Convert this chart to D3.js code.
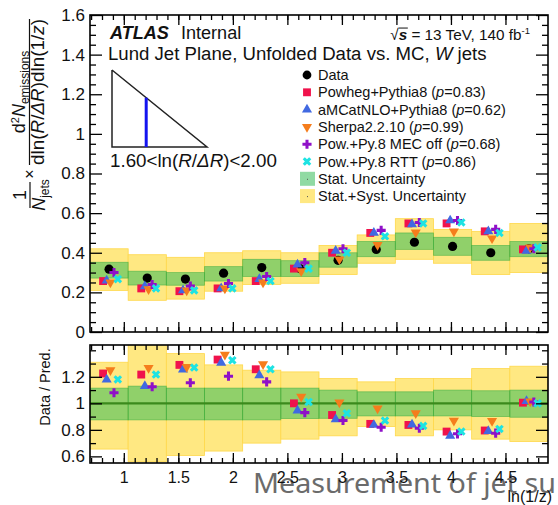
<!DOCTYPE html>
<html>
<head>
<meta charset="utf-8">
<script src="https://cdn.jsdelivr.net/npm/d3@7"></script>
<style>
  body { margin: 0; background: #fff; }
  svg { display: block; }
  text { font-family: "Liberation Sans", Arial, Helvetica, sans-serif; fill: #111; }
</style>
</head>
<body>
<svg id="chart" width="558" height="505"></svg>
<script>
// ln(1/z) bin edges
const binEdges = [0.69, 1.04, 1.39, 1.74, 2.09, 2.44, 2.79, 3.14, 3.49, 3.84, 4.19, 4.54, 4.89];

// Unfolded data and uncertainty bands (upper panel)
const dataVals = [0.317, 0.272, 0.267, 0.297, 0.325, 0.320, 0.362, 0.417, 0.453, 0.432, 0.400, 0.420];
const statLo   = [0.272, 0.237, 0.236, 0.257, 0.280, 0.280, 0.327, 0.380, 0.417, 0.387, 0.362, 0.380];
const statHi   = [0.352, 0.307, 0.300, 0.330, 0.367, 0.360, 0.400, 0.457, 0.500, 0.478, 0.437, 0.457];
const totLo    = [0.210, 0.160, 0.166, 0.206, 0.240, 0.246, 0.290, 0.347, 0.367, 0.347, 0.290, 0.300];
const totHi    = [0.420, 0.390, 0.377, 0.400, 0.410, 0.400, 0.437, 0.490, 0.572, 0.518, 0.508, 0.548];

// MC predictions (upper panel)
const powheg = [0.257, 0.220, 0.206, 0.220, 0.257, 0.320, 0.400, 0.500, 0.548, 0.548, 0.508, 0.417];
const amcnlo = [0.260, 0.230, 0.210, 0.220, 0.267, 0.340, 0.410, 0.500, 0.543, 0.563, 0.508, 0.410];
const sherpa = [0.250, 0.216, 0.210, 0.220, 0.250, 0.307, 0.367, 0.440, 0.503, 0.508, 0.473, 0.427];
const mecOff = [0.300, 0.240, 0.232, 0.245, 0.280, 0.350, 0.420, 0.513, 0.553, 0.563, 0.518, 0.420];
const rtt    = [0.267, 0.220, 0.210, 0.220, 0.257, 0.320, 0.400, 0.483, 0.548, 0.553, 0.500, 0.427];

// Data / prediction ratios (lower panel)
const rPowheg = [1.225, 1.217, 1.290, 1.330, 1.257, 1.000, 0.912, 0.845, 0.837, 0.787, 0.795, 1.005];
const rAmcnlo = [1.180, 1.130, 1.255, 1.305, 1.212, 0.945, 0.880, 0.837, 0.840, 0.755, 0.790, 1.017];
const rSherpa = [1.250, 1.267, 1.275, 1.367, 1.295, 1.050, 1.007, 0.962, 0.925, 0.870, 0.867, 1.015];
const rMecOff = [1.080, 1.125, 1.155, 1.205, 1.162, 0.930, 0.870, 0.820, 0.812, 0.770, 0.775, 1.010];
const rRtt    = [1.180, 1.217, 1.270, 1.325, 1.257, 1.010, 0.925, 0.870, 0.830, 0.787, 0.807, 1.000];

// Relative uncertainty bands (lower panel)
const rStatLo = [0.875, 0.875, 0.875, 0.875, 0.875, 0.885, 0.887, 0.905, 0.905, 0.905, 0.900, 0.895];
const rStatHi = [1.115, 1.130, 1.115, 1.115, 1.115, 1.115, 1.100, 1.087, 1.087, 1.100, 1.095, 1.100];
const rTotLo  = [0.655, 0.560, 0.607, 0.640, 0.700, 0.730, 0.755, 0.825, 0.755, 0.800, 0.730, 0.712];
const rTotHi  = [1.310, 1.450, 1.375, 1.290, 1.250, 1.237, 1.187, 1.162, 1.187, 1.187, 1.262, 1.280];

// Axis ticks and labels
const xTickVals   = [1, 1.5, 2, 2.5, 3, 3.5, 4, 4.5];
const xTickLabels = ["1", "1.5", "2", "2.5", "3", "3.5", "4", "4.5"];
const yTopTicks   = [0, 0.2, 0.4, 0.6, 0.8, 1, 1.2, 1.4, 1.6];
const yTopLabels  = ["0", "0.2", "0.4", "0.6", "0.8", "1", "1.2", "1.4", "1.6"];
const yRatTicks   = [0.6, 0.8, 1, 1.2];
const yRatLabels  = ["0.6", "0.8", "1", "1.2"];

// Legend entries
const seriesNames = ["Powheg+Pythia8", "aMCatNLO+Pythia8", "Sherpa2.2.10", "Pow.+Py.8 MEC off", "Pow.+Py.8 RTT"];
const pValues     = ["0.83", "0.62", "0.99", "0.68", "0.86"];

// ---------------------------------------------------------------
const svg = d3.select("#chart");
const L = 90, R = 548;
const topPanel = { t: 15, b: 332 };
const botPanel = { t: 345, b: 463 };

const x = d3.scaleLinear().domain([binEdges[0], binEdges[binEdges.length - 1]]).range([L, R]);
const yTop = d3.scaleLinear().domain([0, 1.6]).range([topPanel.b, topPanel.t]);
const yBot = d3.scaleLinear().domain([0.55, 1.44]).range([botPanel.b, botPanel.t]);

// scale a text's font so that it spans the given width
function fit(sel, width) {
  const w = sel.node().getBBox().width;
  const fs = parseFloat(sel.style("font-size"));
  sel.style("font-size", (fs * width / w).toFixed(2) + "px");
  return sel;
}

const colYellow = "#ffe882", colYellowEdge = "#ffd84a";
const colGreen = "rgb(52,188,88)";
const styles = [
  { name: "powheg", color: "#f0124c", sym: d3.symbolSquare, size: 62, rot: 0, dx: -0.055 },
  { name: "amc",    color: "#4169e1", sym: d3.symbolTriangle, size: 44, rot: 0, dx: -0.022 },
  { name: "sherpa", color: "#f57d1c", sym: d3.symbolTriangle, size: 44, rot: 180, dx: 0.012 },
  { name: "mec",    color: "#8f10c8", sym: d3.symbolCross, size: 46, rot: 0, dx: 0.045 },
  { name: "rtt",    color: "#1ee3e3", sym: d3.symbolCross, size: 46, rot: 45, dx: 0.08 }
];
const topSeries = [powheg, amcnlo, sherpa, mecOff, rtt];
const ratSeries = [rPowheg, rAmcnlo, rSherpa, rMecOff, rRtt];

const bins = d3.range(dataVals.length).map(i => ({
  i, lo: binEdges[i], hi: binEdges[i + 1], c: (binEdges[i] + binEdges[i + 1]) / 2
}));

const defs = svg.append("defs");
defs.append("clipPath").attr("id", "clipTop").append("rect")
  .attr("x", L).attr("y", topPanel.t).attr("width", R - L).attr("height", topPanel.b - topPanel.t);
defs.append("clipPath").attr("id", "clipBot").append("rect")
  .attr("x", L).attr("y", botPanel.t).attr("width", R - L).attr("height", botPanel.b - botPanel.t);

// Caption running along the bottom edge
svg.append("text")
  .attr("x", 253).attr("y", 493)
  .attr("textLength", 303).attr("lengthAdjust", "spacingAndGlyphs")
  .style("font-family", "'Noto Sans', 'Open Sans', sans-serif")
  .style("font-size", "27px").style("fill", "#6b6b6b")
  .text("Measurement of jet su");

function drawBands(g, y, lo, hi, fill, edge, opacity) {
  g.selectAll(null).data(bins).join("rect")
    .attr("x", d => x(d.lo)).attr("width", d => x(d.hi) - x(d.lo))
    .attr("y", d => y(hi[d.i])).attr("height", d => y(lo[d.i]) - y(hi[d.i]))
    .attr("fill", fill).attr("fill-opacity", opacity)
    .attr("stroke", edge).attr("stroke-width", 0.8).attr("stroke-opacity", opacity);
}

function drawMarkers(g, y, values, st) {
  g.selectAll(null).data(bins).join("path")
    .attr("d", d3.symbol().type(st.sym).size(st.size))
    .attr("transform", d => `translate(${x(d.c + st.dx)},${y(values[d.i])}) rotate(${st.rot})`)
    .attr("fill", st.color);
}

// ---------------- upper panel ----------------
const gTop = svg.append("g").attr("clip-path", "url(#clipTop)");
drawBands(gTop, yTop, totLo, totHi, colYellow, colYellowEdge, 1);
drawBands(gTop, yTop, statLo, statHi, colGreen, "#2aa83a", 0.55);
gTop.selectAll(null).data(bins).join("circle")
  .attr("cx", d => x(d.c)).attr("cy", d => yTop(dataVals[d.i])).attr("r", 4.6).attr("fill", "#000");
styles.forEach((st, k) => drawMarkers(gTop, yTop, topSeries[k], st));

// ---------------- lower panel ----------------
const gBot = svg.append("g").attr("clip-path", "url(#clipBot)");
drawBands(gBot, yBot, rTotLo, rTotHi, colYellow, colYellowEdge, 1);
drawBands(gBot, yBot, rStatLo, rStatHi, colGreen, "#2aa83a", 0.55);
gBot.append("line").attr("x1", L).attr("x2", R).attr("y1", yBot(1)).attr("y2", yBot(1))
  .attr("stroke", "#3b8a1c").attr("stroke-width", 2.4);
styles.forEach((st, k) => drawMarkers(gBot, yBot, ratSeries[k], st));

// ---------------- axes ----------------
const xMinor = d3.range(0.7, 4.85, 0.1).map(v => +v.toFixed(2));
function tickAxis(axisFn, scale, vals, size, fmt, pad) {
  return axisFn(scale).tickValues(vals).tickSize(size).tickPadding(pad || 4)
    .tickFormat(fmt || (() => ""));
}
function styleAxis(g, fontSize) {
  g.select(".domain").remove();
  g.selectAll(".tick line").attr("stroke", "#000").attr("stroke-width", 1.3);
  g.selectAll(".tick text").style("font-size", fontSize).style("font-family", "'Liberation Sans', Arial, sans-serif").attr("fill", "#111");
}

function panelAxes(panel, yScale, yMinor, yMajor, yLabels, xLabelsOn) {
  const lab = (ticks, labels) => (d => labels[ticks.indexOf(d)]);
  // bottom edge
  let g = svg.append("g").attr("transform", `translate(0,${panel.b})`);
  g.call(tickAxis(d3.axisBottom, x, xMinor, -5)); styleAxis(g, "16px");
  g = svg.append("g").attr("transform", `translate(0,${panel.b})`);
  g.call(tickAxis(d3.axisBottom, x, xTickVals, -10, xLabelsOn ? lab(xTickVals, xTickLabels) : null, 9));
  styleAxis(g, "16px");
  // top edge
  g = svg.append("g").attr("transform", `translate(0,${panel.t})`);
  g.call(tickAxis(d3.axisTop, x, xMinor, -5)); styleAxis(g, "16px");
  g = svg.append("g").attr("transform", `translate(0,${panel.t})`);
  g.call(tickAxis(d3.axisTop, x, xTickVals, -10)); styleAxis(g, "16px");
  // left edge
  g = svg.append("g").attr("transform", `translate(${L},0)`);
  g.call(tickAxis(d3.axisLeft, yScale, yMinor, -6)); styleAxis(g, "17px");
  g = svg.append("g").attr("transform", `translate(${L},0)`);
  g.call(tickAxis(d3.axisLeft, yScale, yMajor, -12, lab(yMajor, yLabels), 5)); styleAxis(g, "17px");
  // right edge
  g = svg.append("g").attr("transform", `translate(${R},0)`);
  g.call(tickAxis(d3.axisRight, yScale, yMinor, -6)); styleAxis(g, "17px");
  g = svg.append("g").attr("transform", `translate(${R},0)`);
  g.call(tickAxis(d3.axisRight, yScale, yMajor, -12)); styleAxis(g, "17px");
  // frame
  svg.append("rect").attr("x", L).attr("y", panel.t).attr("width", R - L).attr("height", panel.b - panel.t)
    .attr("fill", "none").attr("stroke", "#000").attr("stroke-width", 1.6);
}

const yTopMinor = d3.range(0.05, 1.6, 0.05).map(v => +v.toFixed(2)).filter(v => !yTopTicks.includes(v));
panelAxes(topPanel, yTop, yTopMinor, yTopTicks, yTopLabels, false);
const yBotMinor = [0.7, 0.9, 1.1, 1.3, 1.4];
panelAxes(botPanel, yBot, yBotMinor, yRatTicks, yRatLabels, true);

// x-axis title
svg.append("text").attr("x", 552).attr("y", 502).attr("text-anchor", "end")
  .style("font-size", "16px").text("ln(1/z)");

// ---------------- y-axis titles ----------------
const yt = svg.append("g").attr("transform", "rotate(-90)");
// big fraction: d^2N_emissions / dln(R/ΔR)dln(1/z)
const num = yt.append("text").attr("x", -92).attr("y", 25).attr("text-anchor", "middle").style("font-size", "18px");
num.append("tspan").text("d");
num.append("tspan").attr("dy", -6).style("font-size", "11px").text("2");
num.append("tspan").attr("dy", 6).style("font-style", "italic").text("N");
num.append("tspan").attr("dy", 4).style("font-size", "12px").text("emissions");
yt.append("line").attr("x1", -19).attr("x2", -165).attr("y1", 29.5).attr("y2", 29.5)
  .attr("stroke", "#111").attr("stroke-width", 1.2);
const den = yt.append("text").attr("x", -92).attr("y", 44).attr("text-anchor", "middle").style("font-size", "18px");
den.append("tspan").text("dln(");
den.append("tspan").style("font-style", "italic").text("R");
den.append("tspan").text("/");
den.append("tspan").style("font-style", "italic").text("ΔR");
den.append("tspan").text(")dln(1/");
den.append("tspan").style("font-style", "italic").text("z");
den.append("tspan").text(")");
fit(den, 146);
yt.append("text").attr("x", -174).attr("y", 35).attr("text-anchor", "middle").style("font-size", "16px").text("×");
// small fraction: 1/N_jets
yt.append("text").attr("x", -195).attr("y", 26).attr("text-anchor", "middle").style("font-size", "18px").text("1");
yt.append("line").attr("x1", -182).attr("x2", -208).attr("y1", 30).attr("y2", 30)
  .attr("stroke", "#111").attr("stroke-width", 1.2);
const nj = yt.append("text").attr("x", -195).attr("y", 45).attr("text-anchor", "middle").style("font-size", "18px");
nj.append("tspan").style("font-style", "italic").text("N");
nj.append("tspan").attr("dy", 4).style("font-size", "12px").text("jets");
// ratio panel
yt.append("text").attr("x", -387).attr("y", 50).attr("text-anchor", "middle")
  .style("font-size", "14.5px").text("Data / Pred.");

// ---------------- labels ----------------
const t1 = svg.append("text").attr("x", 110).attr("y", 39).style("font-size", "16px");
t1.append("tspan").style("font-weight", "bold").style("font-style", "italic").text("ATLAS");
t1.append("tspan").attr("dx", 12).text("Internal");
fit(t1, 134);

const t2 = svg.append("text").attr("x", 108).attr("y", 60).style("font-size", "16.5px");
t2.append("tspan").text("Lund Jet Plane, Unfolded Data vs. MC, ");
t2.append("tspan").style("font-style", "italic").text("W");
t2.append("tspan").text(" jets");
fit(t2, 379);

const t3 = svg.append("text").attr("x", 530).attr("y", 40).attr("text-anchor", "end").style("font-size", "15.3px");
t3.append("tspan").text("√");
t3.append("tspan").style("font-style", "italic").style("font-weight", "bold").text("s");
t3.append("tspan").text(" = 13 TeV, 140 fb");
t3.append("tspan").attr("dy", -6).style("font-size", "9.5px").text("-1");
const sqb = t3.node().getBBox();
const sfs = 15.3;
svg.append("line").attr("x1", sqb.x + 0.55 * sfs).attr("x2", sqb.x + 1.15 * sfs)
  .attr("y1", sqb.y + 0.2 * sfs).attr("y2", sqb.y + 0.2 * sfs)
  .attr("stroke", "#111").attr("stroke-width", 1);

// Lund-plane inset: triangle with the selected ln(R/ΔR) slice
const ix = d3.scaleLinear().domain([0, 5]).range([112, 207]);
const iy = d3.scaleLinear().domain([0, 5]).range([147, 70]);
svg.append("path")
  .attr("d", d3.line()([[ix(0), iy(5)], [ix(0), iy(0)], [ix(5), iy(0)], [ix(0), iy(5)]]))
  .attr("fill", "none").attr("stroke", "#222").attr("stroke-width", 1.5);
svg.append("line").attr("x1", ix(1.8)).attr("x2", ix(1.8)).attr("y1", iy(0)).attr("y2", iy(5 - 1.8))
  .attr("stroke", "#1414f0").attr("stroke-width", 3);
const t4 = svg.append("text").attr("x", 110).attr("y", 167).style("font-size", "17px");
t4.append("tspan").text("1.60<ln(");
t4.append("tspan").style("font-style", "italic").text("R");
t4.append("tspan").text("/");
t4.append("tspan").style("font-style", "italic").text("ΔR");
t4.append("tspan").text(")<2.00");
fit(t4, 167);

// ---------------- legend ----------------
const legX = 307, legTx = 318, legY0 = 75, legDy = 17.3;
const leg = svg.append("g").style("font-size", "14.5px");
leg.append("circle").attr("cx", legX).attr("cy", legY0).attr("r", 4.4).attr("fill", "#000");
leg.append("text").attr("x", legTx).attr("y", legY0 + 5).text("Data");
styles.forEach((st, k) => {
  const cy = legY0 + legDy * (k + 1);
  leg.append("path").attr("d", d3.symbol().type(st.sym).size(st.size))
    .attr("transform", `translate(${legX},${cy}) rotate(${st.rot})`).attr("fill", st.color);
  const tx = leg.append("text").attr("x", legTx).attr("y", cy + 5);
  tx.append("tspan").text(seriesNames[k] + " (");
  tx.append("tspan").style("font-style", "italic").text("p");
  tx.append("tspan").text("=" + pValues[k] + ")");
});
[["Stat. Uncertainty", colGreen, 0.55], ["Stat.+Syst. Uncertainty", colYellow, 1]].forEach((e, k) => {
  const cy = legY0 + legDy * (6 + k);
  leg.append("rect").attr("x", legX - 7).attr("y", cy - 7).attr("width", 15).attr("height", 14)
    .attr("fill", e[1]).attr("fill-opacity", e[2]);
  leg.append("rect").attr("x", legX).attr("y", cy).attr("width", 1).attr("height", 1).attr("fill", "#555");
  leg.append("text").attr("x", legTx).attr("y", cy + 5).text(e[0]);
});
</script>
</body>
</html>
